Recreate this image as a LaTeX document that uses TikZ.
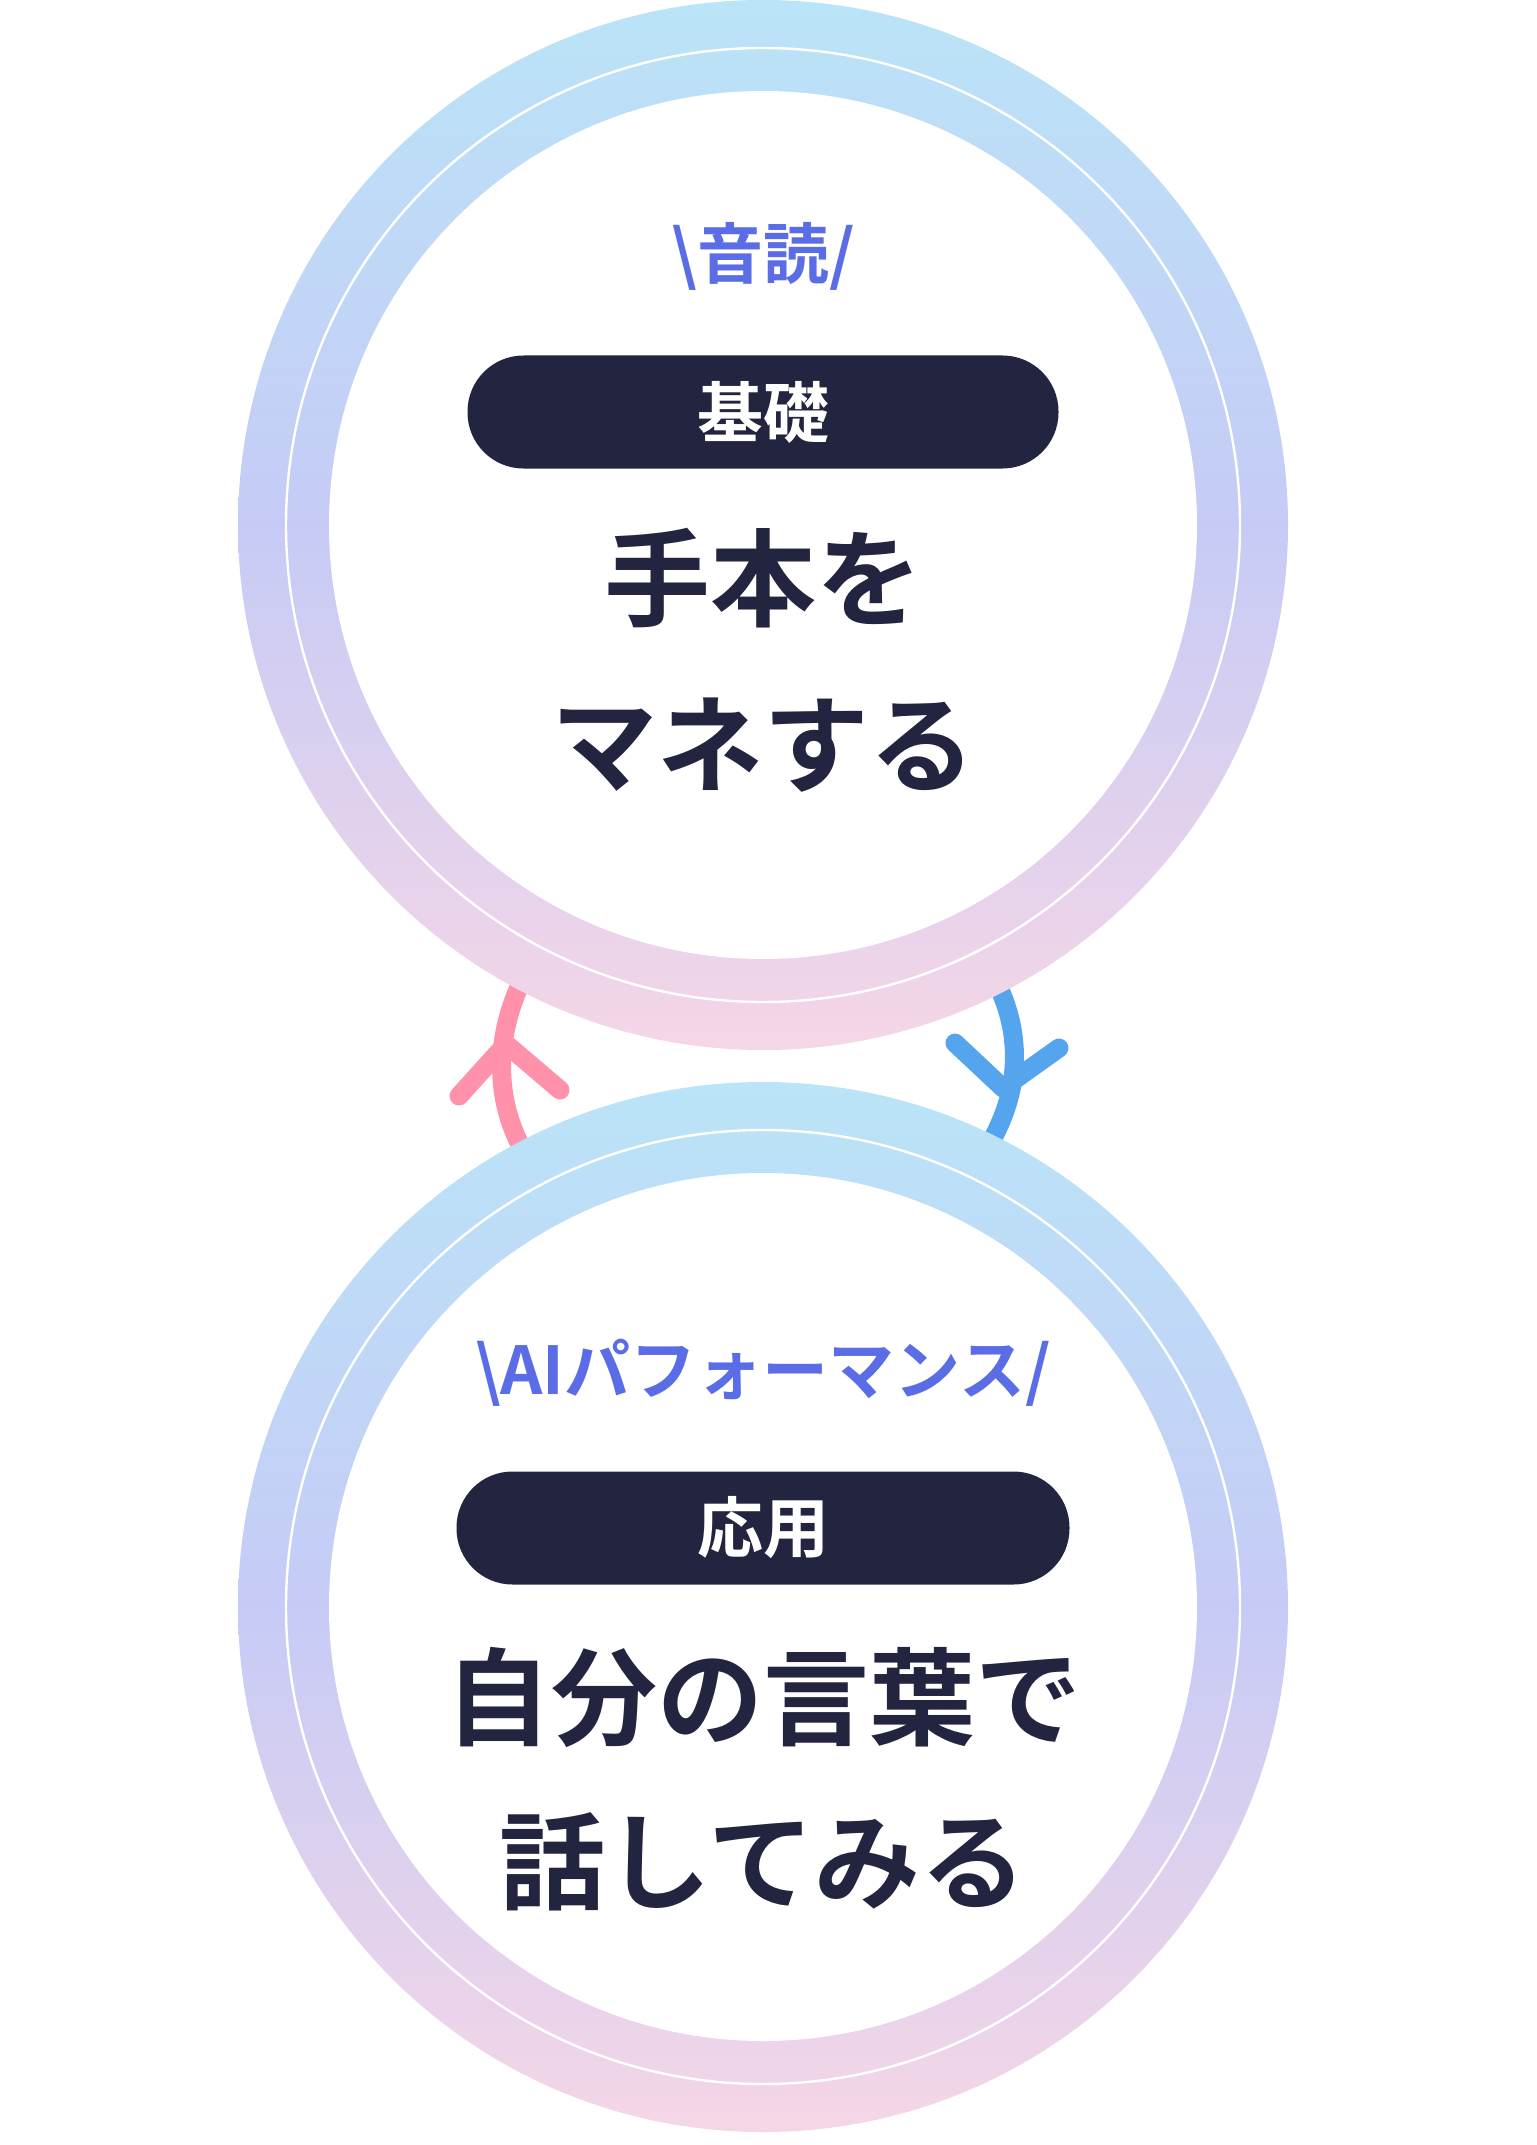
\documentclass[tikz,border=0pt]{standalone}
\usepackage{fontspec}
\newfontfamily\jp{Noto Sans CJK JP Bold}
\definecolor{navy}{HTML}{23243F}
\definecolor{ringtop}{HTML}{BAE4F7}
\definecolor{ringmid}{HTML}{C6CBF6}
\definecolor{ringbot}{HTML}{F5D6E6}
\definecolor{pinkarr}{HTML}{FF92AA}
\definecolor{bluearr}{HTML}{55A4EE}
\definecolor{tagc}{HTML}{5A6DE6}
\begin{document}
\begin{tikzpicture}[x=0.5pt,y=-0.5pt,
  arr/.style={line width=9.5pt,line cap=round,line join=round},
  pill/.style={fill=navy,rounded corners=28pt,minimum width=295.5pt,minimum height=56.5pt,text=white,font=\jp\fontsize{33}{33}\selectfont},
  tag/.style={text=tagc,font=\jp\fontsize{33}{33}\selectfont},
  big/.style={text=navy,font=\jp\fontsize{53}{60}\selectfont,align=center}]
\useasboundingbox (0,0) rectangle (1536,2145);
% arrows
\coordinate (pa) at (520,985); \coordinate (pb) at (523,1150);
\coordinate (pt) at (506,1044);
\draw[arr,pinkarr] (pa) .. controls (495,1040) and (495,1100) .. (pb);
\draw[arr,pinkarr] (459,1096) -- (pt) -- (560,1090);
\coordinate (ba) at (1000,990); \coordinate (bb) at (994,1136);
\coordinate (bt) at (1003,1088);
\draw[arr,bluearr] (ba) .. controls (1022,1040) and (1018,1090) .. (bb);
\draw[arr,bluearr] (955,1043) -- (bt) -- (1059,1048);
% rings
\foreach \cy/\nm in {525/top,1607/bot}{
  \shade[top color=ringtop,bottom color=ringbot,middle color=ringmid] (763,\cy) circle[radius=262.5pt];
  \fill[white] (763,\cy) circle[radius=217pt];
  \draw[white,line width=1.2pt] (763,\cy) circle[radius=238.5pt];
}
% top content
\node[tag] (t1) at (763,256) {\textbackslash 音読/};
\node[pill] (p1) at (763,412) {基礎};
\node[big] (m1) at (763,578) {手本を};
\node[big] (m2) at (763,745) {マネする};
% bottom content
\node[tag] (t2) at (763,1373) {\textbackslash AIパフォーマンス/};
\node[pill,minimum width=306.5pt] (p2) at (763,1528) {応用};
\node[big] (m3) at (763,1697) {自分の言葉で};
\node[big] (m4) at (763,1862) {話してみる};
\end{tikzpicture}
\end{document}
